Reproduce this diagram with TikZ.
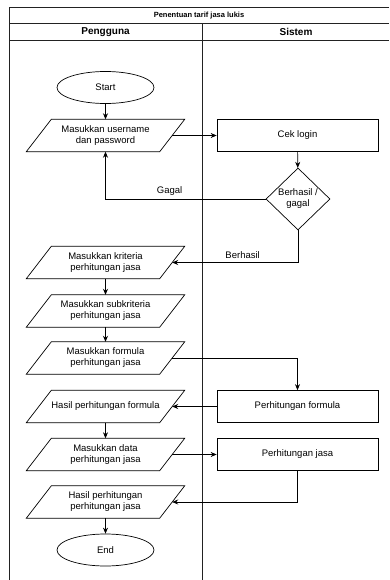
\documentclass[tikz,border=0pt]{standalone}
\usepackage{fontspec}
\setmainfont{Liberation Sans}
\usepackage{tikz}
\usetikzlibrary{arrows.meta, positioning, shapes.geometric}
\definecolor{lane}{RGB}{34,34,34}

\begin{document}
\begin{tikzpicture}[x=1pt, y=-1pt, >={Stealth[length=6pt, width=5pt]},
  every node/.style={font=\fontsize{9.5}{11}\selectfont, align=center},
  term/.style={ellipse, draw, line width=0.7pt, minimum width=97pt,
    minimum height=32pt, inner sep=0pt},
  io/.style={rectangle, minimum width=133pt, minimum height=32pt,
    inner sep=0pt, append after command={\pgfextra{\let\ionode\tikzlastnode
      \draw[line width=0.7pt] ([xshift=12.5pt]\ionode.north west)
      -- ([xshift=12.5pt]\ionode.north east)
      -- ([xshift=-12.5pt]\ionode.south east)
      -- ([xshift=-12.5pt]\ionode.south west) -- cycle;}}},
  proc/.style={rectangle, draw, line width=0.7pt, minimum width=161pt,
    minimum height=32pt, inner sep=0pt},
  dec/.style={diamond, draw, line width=0.7pt, minimum width=64pt,
    minimum height=62pt, inner sep=0pt, aspect=1},
  flow/.style={->, line width=0.7pt}]
  \useasboundingbox (0,0) rectangle (389,580);
  % swimlane frame
  \draw[lane, line width=0.9pt] (389,7) -- (9,7) -- (9,580);
  \draw[lane, line width=0.9pt] (9,23.5) -- (389,23.5);
  \draw[lane, line width=0.9pt] (9,40) -- (389,40);
  \draw[lane, line width=0.9pt] (202,23.5) -- (202,580);
  \node[font=\bfseries\fontsize{7.5}{9}\selectfont] (title) at (199,15.5)
    {Penentuan tarif jasa lukis};
  \node[font=\bfseries\fontsize{10}{12}\selectfont] (pengguna) at (105.5,32)
    {Pengguna};
  \node[font=\bfseries\fontsize{10}{12}\selectfont] (sistem) at (296,32)
    {Sistem};
  % Pengguna
  \node[term] (start) at (105.5,87.5) {Start};
  \node[io] (user) at (105.5,135.5) {Masukkan username\\dan password};
  \node[io] (krit) at (105.5,262.5) {Masukkan kriteria\\perhitungan jasa};
  \node[io] (subkrit) at (105.5,311) {Masukkan subkriteria\\perhitungan jasa};
  \node[io] (form) at (105.5,358) {Masukkan formula\\perhitungan jasa};
  \node[io] (hform) at (105.5,406.5) {Hasil perhitungan formula};
  \node[io] (data) at (105.5,454.5) {Masukkan data\\perhitungan jasa};
  \node[io] (hjasa) at (105.5,502) {Hasil perhitungan\\perhitungan jasa};
  \node[term] (end) at (105.5,550) {End};
  % Sistem
  \node[proc] (cek) at (297.5,135.5) {Cek login};
  \node[dec] (hasil) at (298,199) {Berhasil /\\gagal};
  \node[proc] (pform) at (297.5,406.5) {Perhitungan formula};
  \node[proc] (pjasa) at (297.5,454.5) {Perhitungan jasa};
  % connectors
  \draw[flow] (start) -- (user);
  \draw[flow] (user.east) -- (cek.west);
  \draw[flow] (cek) -- (hasil);
  \draw[flow] (hasil.west) -| node[pos=0.3, above] {Gagal} (user.south);
  \draw[flow] (hasil.south) |- node[pos=0.72, above] {Berhasil} (krit.east);
  \draw[flow] (krit) -- (subkrit);
  \draw[flow] (subkrit) -- (form);
  \draw[flow] (form.east) -| (pform.north);
  \draw[flow] (pform.west) -- (hform.east);
  \draw[flow] (hform) -- (data);
  \draw[flow] (data.east) -- (pjasa.west);
  \draw[flow] (pjasa.south) |- (hjasa.east);
  \draw[flow] (hjasa) -- (end);
\end{tikzpicture}
\end{document}
